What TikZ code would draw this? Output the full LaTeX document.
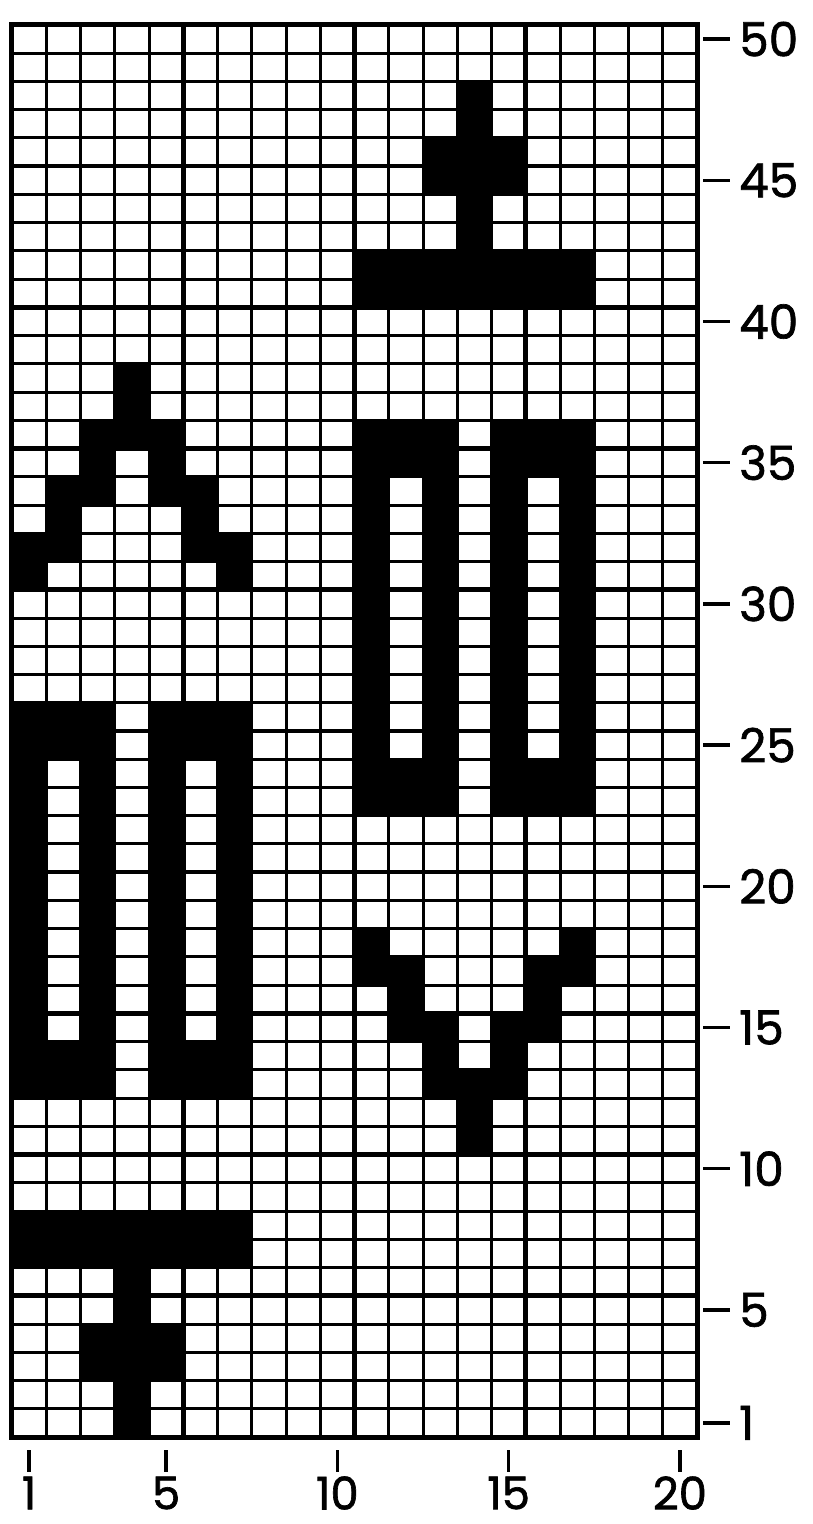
\documentclass[tikz,border=0pt]{standalone}
\usepackage{fontspec}
\setmainfont{Poppins}
\newfontfamily\numfont[FakeBold=1.4]{Poppins}
\usetikzlibrary{calc}

\begin{document}
\begin{tikzpicture}[
  x=34.25pt, y=28.24pt,
  cell/.style={fill=black},
  thinrule/.style={line width=3pt},
  thickrule/.style={line width=4.6pt},
  frame/.style={line width=5pt},
  tickmark/.style={line width=3.5pt},
  rowlabel/.style={anchor=west, inner sep=0pt, font=\numfont\fontsize{47}{47}\selectfont},
  collabel/.style={anchor=center, inner sep=0pt, font=\numfont\fontsize{45}{45}\selectfont}
]

\path[use as bounding box, fill=white] (-12pt,-87pt) rectangle (800pt,1437pt);

% black blocks: first col / first row / last col / last row
\foreach \ca/\ra/\cb/\rb in {
    4/1/4/2, 3/3/5/4, 4/5/4/6, 1/7/7/8,
    1/13/3/14, 1/25/3/26, 1/15/1/24, 3/15/3/24,
    5/13/7/14, 5/25/7/26, 5/15/5/24, 7/15/7/24,
    4/37/4/38, 3/36/5/36, 3/35/3/35, 5/35/5/35,
    2/34/3/34, 5/34/6/34, 2/33/2/33, 6/33/6/33,
    1/32/2/32, 6/32/7/32, 1/31/1/31, 7/31/7/31,
    11/41/17/42, 14/43/14/44, 13/45/15/46, 14/47/14/48,
    11/23/13/24, 11/35/13/36, 11/25/11/34, 13/25/13/34,
    15/23/17/24, 15/35/17/36, 15/25/15/34, 17/25/17/34,
    14/11/14/12, 13/13/15/13, 13/14/13/14, 15/14/15/14,
    12/15/13/15, 15/15/16/15, 12/16/12/16, 16/16/16/16,
    11/17/12/17, 16/17/17/17, 11/18/11/18, 17/18/17/18}
  \fill[cell] (\ca-1,\ra-1) rectangle (\cb,\rb);

% grid
\foreach \i in {0,...,20}
  \draw[thinrule] (\i,0) -- (\i,50);
\foreach \j in {0,...,50}
  \draw[thinrule] (0,\j) -- (20,\j);
\foreach \i in {5,10,15}
  \draw[thickrule] (\i,0) -- (\i,50);
\foreach \j in {5,10,...,45}
  \draw[thickrule] (0,\j) -- (20,\j);
\draw[frame] (0,0) rectangle (20,50);

% row numbers
\foreach \r in {1,5,10,...,50} {
  \draw[tickmark] ($(20,\r-0.5)+(6pt,0)$) -- ++(27pt,0);
  \node[rowlabel] (row\r) at ($(20,\r-0.5)+(42pt,0)$) {\r};
}

% column numbers
\foreach \c in {1,5,10,15,20} {
  \draw[tickmark] ($(\c-0.5,0)+(0,-13pt)$) -- ++(0,-22pt);
  \node[collabel] (col\c) at ($(\c-0.5,0)+(0,-56pt)$) {\c};
}

\end{tikzpicture}
\end{document}
